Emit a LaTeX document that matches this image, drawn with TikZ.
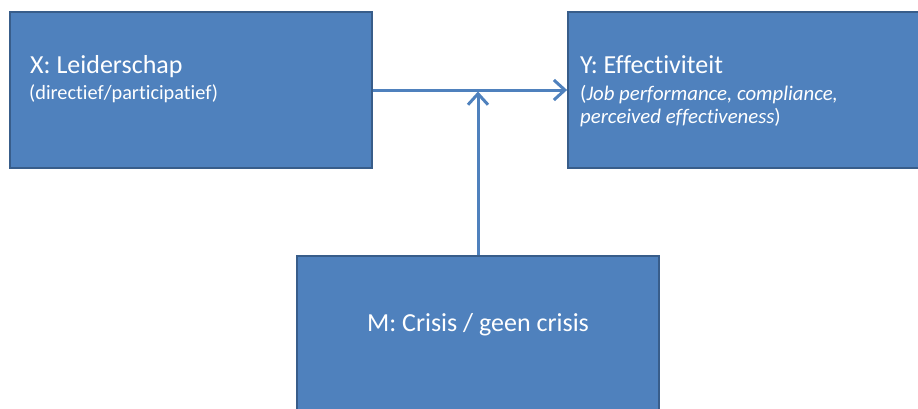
\documentclass[tikz,border=0pt]{standalone}
\usepackage{fontspec}
\setmainfont{Carlito}[Ligatures={NoCommon,NoContextual}]
\usetikzlibrary{arrows.meta}
\definecolor{boxfill}{HTML}{4F81BD}
\definecolor{boxline}{HTML}{385D8A}
\begin{document}
\begin{tikzpicture}[x=1pt,y=-1pt,
  blockbox/.style={draw=boxline,line width=1.8pt,fill=boxfill,minimum width=362pt,minimum height=156pt,inner sep=0pt},
  titletext/.style={text=white,font=\fontsize{26}{30}\selectfont,inner sep=0pt},
  subtext/.style={text=white,font=\fontsize{20.3}{23}\selectfont,inner sep=0pt,align=left},
  itext/.style={text=white,font=\fontsize{20.8}{23}\selectfont,inner sep=0pt,align=left},
  conn/.style={draw=boxfill,line width=3pt,-{Straight Barb[length=11pt,width=20pt,line width=3pt]}}]
\useasboundingbox (0,0) rectangle (918,408);
\clip (0,0) rectangle (918,408);
\node[blockbox] (X) at (191,90) {};
\node[blockbox] (Y) at (749,90) {};
\node[blockbox] (M) at (478,334) {};
\node[titletext,anchor=base west] (xt) at (30,73) {X: Leiderschap};
\node[subtext,anchor=base west] (xs) at (29,99) {(directief/participatief)};
\node[titletext,anchor=base west] (yt) at (580,73) {Y: Effectiviteit};
\node[itext,anchor=base west] (ys1) at (580,100) {(\textit{Job performance, compliance,}};
\node[itext,anchor=base west] (ys2) at (580,123) {\textit{perceived effectiveness})};
\node[titletext,anchor=base] (mt) at (478,331) {M: Crisis / geen crisis};
\coordinate (J) at (M.north |- X.east);
\draw[conn] (X.east) -- (Y.west);
\draw[conn,shorten >=1.5pt] (M.north) -- (J);
\end{tikzpicture}
\end{document}
